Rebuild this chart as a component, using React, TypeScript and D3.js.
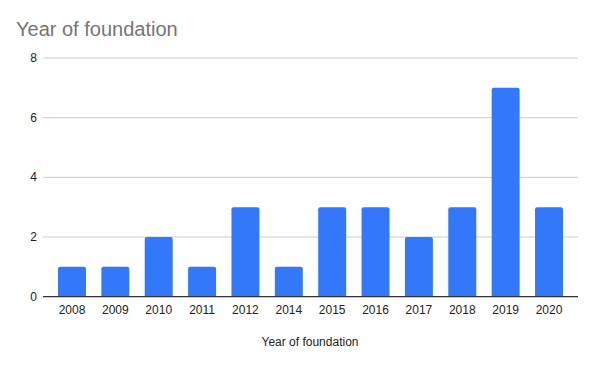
import React from "react";
import * as d3 from "d3";

const years = ["2008","2009","2010","2011","2012","2014","2015","2016","2017","2018","2019","2020"];
const counts = [1,1,2,1,3,1,3,3,2,3,7,3];
const yTicks = [0,2,4,6,8];

export default function App() {
  const W = 595, H = 365;
  const x = d3.scaleBand<string>().domain(years).range([50.3, 570.7]).paddingInner(0.355).paddingOuter(0.1775);
  const y = d3.scaleLinear().domain([0, 8]).range([296.7, 58]);
  const font = "'Liberation Sans', Arial, sans-serif";
  const r = 2;
  return (
    <svg width={W} height={H} style={{ position: "absolute", left: 0, top: 0 }} fontFamily={font}>
      <rect width={W} height={H} fill="#fff" />
      <text x={16} y={36} fontSize={20} fill="#757575">Year of foundation</text>
      {yTicks.map(t => (
        <g key={t}>
          {t !== 0 && <line x1={43} x2={578} y1={y(t)} y2={y(t)} stroke="#cccccc" strokeWidth={1} />}
          <text x={37} y={y(t) + 4} fontSize={12} fill="#222" textAnchor="end">{t}</text>
        </g>
      ))}
      {years.map((yr, i) => {
        const x0 = x(yr)!, bw = x.bandwidth();
        const yt = y(counts[i]), yb = y(0);
        const d = `M${x0},${yb}V${yt + r}Q${x0},${yt} ${x0 + r},${yt}H${x0 + bw - r}Q${x0 + bw},${yt} ${x0 + bw},${yt + r}V${yb}Z`;
        return (
          <g key={yr}>
            <path d={d} fill="#3378fb" />
            <text x={x0 + bw / 2} y={314} fontSize={12} fill="#222" textAnchor="middle">{yr}</text>
          </g>
        );
      })}
      <line x1={43} x2={578} y1={y(0)} y2={y(0)} stroke="#333" strokeWidth={1.2} />
      <text x={310} y={346} fontSize={12} fill="#222" textAnchor="middle">Year of foundation</text>
    </svg>
  );
}
